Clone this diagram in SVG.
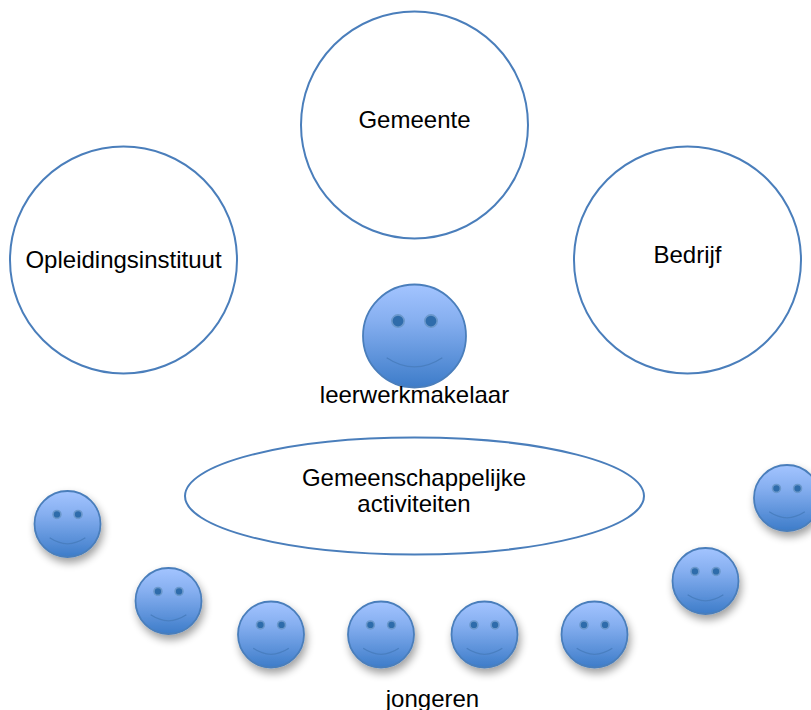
<svg xmlns="http://www.w3.org/2000/svg" width="811" height="710" viewBox="0 0 811 710">
<style>
.o{fill:#fff;stroke:#4a7ebb;stroke-width:2}
.t{font-family:"Liberation Sans",Arial,sans-serif;font-size:24px;fill:#000;text-anchor:middle}
.face{fill:url(#g);stroke:#4a7ebb;stroke-width:1.8;vector-effect:non-scaling-stroke}
.eye{fill:#2f6cab;stroke:#6b98cc;stroke-width:1.6;vector-effect:non-scaling-stroke}
.m{fill:none;stroke:#4a7fc0;stroke-width:1.2;vector-effect:non-scaling-stroke}
</style>
<defs>
<linearGradient id="g" x1="0" y1="0" x2="0" y2="1"><stop offset="0" stop-color="#a3c4ff"/><stop offset=".35" stop-color="#86aff0"/><stop offset="1" stop-color="#3d7cc9"/></linearGradient>
<filter id="s" x="-30%" y="-30%" width="170%" height="170%"><feGaussianBlur in="SourceAlpha" stdDeviation="4"/><feOffset dx="1.500" dy="5"/><feComponentTransfer><feFuncA type="linear" slope=".38"/></feComponentTransfer><feMerge><feMergeNode/><feMergeNode in="SourceGraphic"/></feMerge></filter>
<g id="smiley"><circle class="face" r="1"/><circle class="eye" cx="-.32" cy="-.29" r=".12"/><circle class="eye" cx=".32" cy="-.29" r=".12"/><path class="m" d="M-.54 .42Q0 .78 .54 .42"/></g>
</defs>
<g id="gemeente"><circle class="o" cx="414.500" cy="125" r="113.500"/><text class="t" x="414.500" y="128">Gemeente</text></g>
<g id="opleidingsinstituut"><circle class="o" cx="123.500" cy="260" r="113.500"/><text class="t" x="123.500" y="268">Opleidingsinstituut</text></g>
<g id="bedrijf"><circle class="o" cx="687.500" cy="260" r="113.500"/><text class="t" x="687.500" y="263">Bedrijf</text></g>
<g id="leerwerkmakelaar"><use href="#smiley" transform="translate(414.500 336) scale(51.500)"/><text class="t" x="414.500" y="403">leerwerkmakelaar</text></g>
<g id="activiteiten"><ellipse class="o" cx="414.500" cy="496" rx="229.500" ry="58.500"/><text class="t" x="414" y="486">Gemeenschappelijke</text><text class="t" x="414" y="512">activiteiten</text></g>
<g id="j1" filter="url(#s)"><use href="#smiley" transform="translate(67.500 524) scale(33)"/></g>
<g id="j2" filter="url(#s)"><use href="#smiley" transform="translate(168.500 601) scale(33)"/></g>
<g id="j3" filter="url(#s)"><use href="#smiley" transform="translate(271 634.500) scale(33)"/></g>
<g id="j4" filter="url(#s)"><use href="#smiley" transform="translate(381 634.500) scale(33)"/></g>
<g id="j5" filter="url(#s)"><use href="#smiley" transform="translate(484.500 634.500) scale(33)"/></g>
<g id="j6" filter="url(#s)"><use href="#smiley" transform="translate(594.500 634.500) scale(33)"/></g>
<g id="j7" filter="url(#s)"><use href="#smiley" transform="translate(705.500 581) scale(33)"/></g>
<g id="j8" filter="url(#s)"><use href="#smiley" transform="translate(787 498) scale(33)"/></g>
<g id="connectors"/>
<g id="jongeren"><text class="t" x="432.500" y="707">jongeren</text></g>
</svg>
